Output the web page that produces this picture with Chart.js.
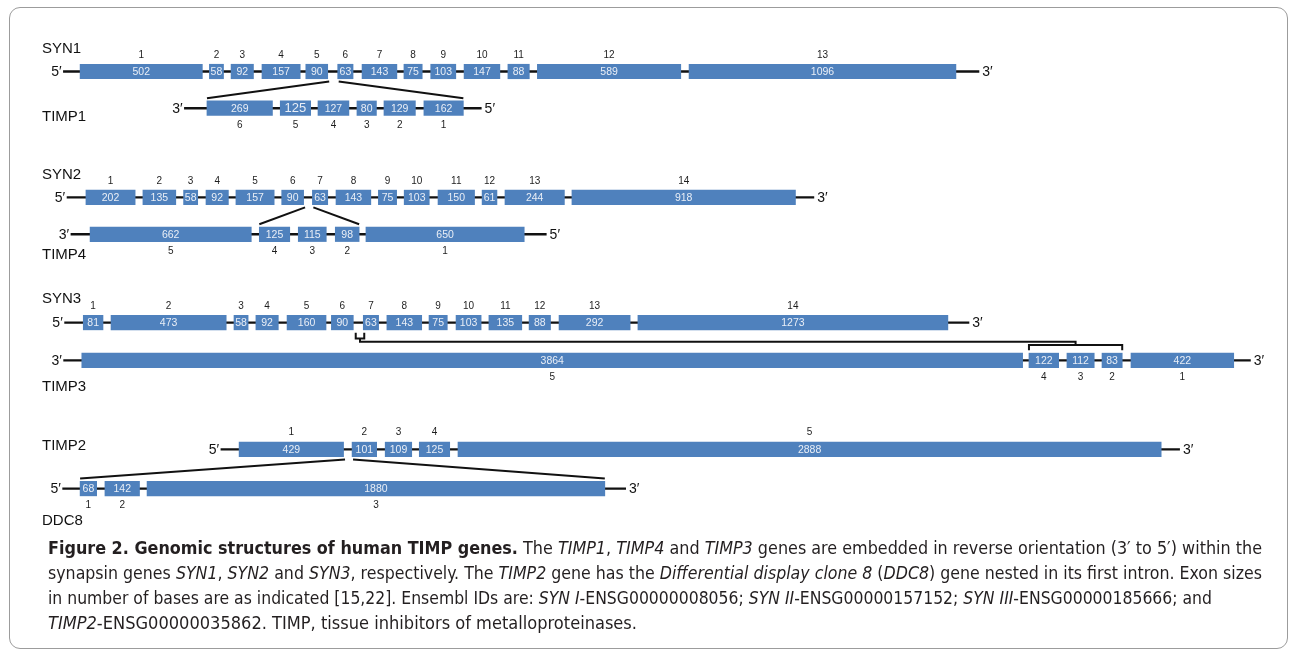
<!DOCTYPE html>
<html>
<head>
<meta charset="utf-8">
<script src="https://cdn.jsdelivr.net/npm/chart.js@4.4.0/dist/chart.umd.min.js"></script>
<style>
  html, body { margin: 0; padding: 0; background: #fff; overflow: hidden; }
  #wrap { position: relative; width: 1289px; height: 662px; }
  #frame { position: absolute; left: 9px; top: 7px; width: 1279px; height: 642px; border: 1px solid #9c9c9c; border-radius: 11px; box-sizing: border-box; }
  #gene { position: absolute; left: 0; top: 0; }
  #caption { position: absolute; left: 48px; top: 536px; font-family: "Liberation Sans Narrow", "DejaVu Sans Condensed", "Liberation Sans", sans-serif; font-size: 17px; line-height: 25px; color: #231f20; white-space: nowrap; }
  #caption div { display: block; transform-origin: 0 50%; }
  #caption span.t { display: inline-block; }
</style>
</head>
<body>
<div id="wrap">
  <div id="frame"></div>
  <canvas id="gene" width="1289" height="662"></canvas>
  <div id="caption">
    <div data-w="1214"><span class="t"><b>Figure 2. Genomic structures of human TIMP genes.</b> The <i>TIMP1</i>, <i>TIMP4</i> and <i>TIMP3</i> genes are embedded in reverse orientation (3′ to 5′) within the</span></div>
    <div data-w="1214"><span class="t">synapsin genes <i>SYN1</i>, <i>SYN2</i> and <i>SYN3</i>, respectively. The <i>TIMP2</i> gene has the <i>Differential display clone 8</i> (<i>DDC8</i>) gene nested in its first intron. Exon sizes</span></div>
    <div data-w="1164"><span class="t">in number of bases are as indicated [15,22]. Ensembl IDs are: <i>SYN I</i>-ENSG00000008056; <i>SYN II</i>-ENSG00000157152; <i>SYN III</i>-ENSG00000185666; and</span></div>
    <div data-w="589"><span class="t"><i>TIMP2</i>-ENSG00000035862. TIMP, tissue inhibitors of metalloproteinases.</span></div>
  </div>
</div>
<script>
// --- Data (exon sizes in bases, exon start along the drawing axis, exon numbers) ---
const geneNames = ['SYN1', 'TIMP1', 'SYN2', 'TIMP4', 'SYN3', 'TIMP3', 'TIMP2', 'DDC8'];

const syn1Sizes = [502, 58, 92, 157, 90, 63, 143, 75, 103, 147, 88, 589, 1096];
const syn1Starts = [329, 860, 949, 1076, 1256, 1387, 1487, 1659, 1769, 1906, 2086, 2207, 2830];
const syn1Numbers = [1, 2, 3, 4, 5, 6, 7, 8, 9, 10, 11, 12, 13];
const syn1Span = [259, 4022];

const timp1Sizes = [269, 125, 127, 80, 129, 162];
const timp1Starts = [850, 1151, 1306, 1466, 1577, 1741];
const timp1Numbers = [6, 5, 4, 3, 2, 1];
const timp1Span = [756, 1978];

const syn2Sizes = [202, 135, 58, 92, 157, 90, 63, 143, 75, 103, 150, 61, 244, 918];
const syn2Starts = [353, 587, 754, 846, 969, 1157, 1283, 1380, 1554, 1660, 1799, 1980, 2074, 2349];
const syn2Numbers = [1, 2, 3, 4, 5, 6, 7, 8, 9, 10, 11, 12, 13, 14];
const syn2Span = [274, 3344];

const timp4Sizes = [662, 125, 115, 98, 650];
const timp4Starts = [370, 1065, 1225, 1377, 1503];
const timp4Numbers = [5, 4, 3, 2, 1];
const timp4Span = [290, 2245];

const syn3Sizes = [81, 473, 58, 92, 160, 90, 63, 143, 75, 103, 135, 88, 292, 1273];
const syn3Starts = [342, 456, 961, 1051, 1179, 1361, 1492, 1589, 1762, 1873, 2008, 2173, 2296, 2620];
const syn3Numbers = [1, 2, 3, 4, 5, 6, 7, 8, 9, 10, 11, 12, 13, 14];
const syn3Span = [264, 3981];

const timp3Sizes = [3864, 122, 112, 83, 422];
const timp3Starts = [336, 4226, 4382, 4526, 4645];
const timp3Numbers = [5, 4, 3, 2, 1];
const timp3Span = [260, 5137];

const timp2Sizes = [429, 101, 109, 125, 2888];
const timp2Starts = [982, 1446, 1582, 1722, 1881];
const timp2Numbers = [1, 2, 3, 4, 5];
const timp2Span = [906, 4846];

const ddc8Sizes = [68, 142, 1880];
const ddc8Starts = [329, 431, 604];
const ddc8Numbers = [1, 2, 3];
const ddc8Span = [256, 2571];

// 5'/3' ends shown at the left and right of each gene
const geneEnds = [['5′', '3′'], ['3′', '5′'], ['5′', '3′'], ['3′', '5′'], ['5′', '3′'], ['3′', '3′'], ['5′', '3′'], ['5′', '3′']];

// nested genes: [host, nested, host exon before the gap, first nested exon, last nested exon]
const nestings = [[0, 1, 4, 0, 5], [2, 3, 5, 1, 3], [6, 7, 0, 0, 2]];
const bracketNest = [4, 5, 5, 1, 3];

// --- Layout ---
const X_MAX = 5294;
const rowY = [71.5, 108.2, 197.4, 234.3, 322.6, 360.4, 449.4, 488.6];
const numberDy = [-16, 17.5, -16.5, 16.5, -16.5, 17.3, -16.7, 16.5];
const nameDy = [-22.5, 9, -22.5, 21, -23.5, 26, -3.4, 32.5];
const BLUE = '#4f81bd';

const sizes = [syn1Sizes, timp1Sizes, syn2Sizes, timp4Sizes, syn3Sizes, timp3Sizes, timp2Sizes, ddc8Sizes];
const starts = [syn1Starts, timp1Starts, syn2Starts, timp4Starts, syn3Starts, timp3Starts, timp2Starts, ddc8Starts];
const numbers = [syn1Numbers, timp1Numbers, syn2Numbers, timp4Numbers, syn3Numbers, timp3Numbers, timp2Numbers, ddc8Numbers];
const spans = [syn1Span, timp1Span, syn2Span, timp4Span, syn3Span, timp3Span, timp2Span, ddc8Span];

const exonEnd = (g, i) => starts[g][i] + sizes[g][i];

function lineSet(points, width) {
  return {
    type: 'line',
    indexAxis: 'x',
    data: points.map(p => ({ x: p[0], y: p[1] })),
    borderColor: '#111',
    borderWidth: width,
    pointRadius: 0,
    tension: 0,
    fill: false,
    order: 2
  };
}

const datasets = [];

// exons as floating bars
geneNames.forEach((name, g) => {
  datasets.push({
    type: 'bar',
    label: name,
    data: sizes[g].map((s, i) => ({ x: [starts[g][i], starts[g][i] + s], y: rowY[g] })),
    backgroundColor: BLUE,
    borderWidth: 0,
    barThickness: 14.5,
    grouped: false,
    order: 1
  });
  // intron / flanking line
  datasets.push(lineSet([[spans[g][0], rowY[g]], [spans[g][1], rowY[g]]], 2.4));
});

// fan lines from host intron to the nested gene
nestings.forEach(([h, n, e, a, b]) => {
  const top = rowY[h] + 10, bot = rowY[n] - 10;
  datasets.push(lineSet([[exonEnd(h, e) + 6, top], [starts[n][a], bot]], 2));
  datasets.push(lineSet([[starts[h][e + 1] + 4, top], [exonEnd(n, b), bot]], 2));
});

// bracket SYN3 intron 6 -> TIMP3 exons 4-2
(function () {
  const [h, n, e, a, b] = bracketNest;
  const l = exonEnd(h, e) + 10, r = starts[h][e + 1] + 4, c = (l + r) / 2;
  const y0 = rowY[h] + 10.2, y1 = rowY[h] + 15.8, y2 = rowY[h] + 19.2;
  const bl = starts[n][a], br = exonEnd(n, b), bc = (bl + br) / 2;
  const z0 = rowY[n] - 15.4, z1 = rowY[n] - 10.2;
  datasets.push(lineSet([[l, y0], [l, y1], [r, y1], [r, y0]], 2));
  datasets.push(lineSet([[c, y1], [c, y2], [bc, y2], [bc, z0]], 2));
  datasets.push(lineSet([[bl, z1], [bl, z0], [br, z0], [br, z1]], 2));
})();

// --- Text drawn with the scales ---
const FONT = '"Liberation Sans", Arial, Helvetica, sans-serif';
const labelPlugin = {
  id: 'geneLabels',
  afterDatasetsDraw(chart) {
    const { ctx, scales: { x, y } } = chart;
    ctx.save();
    ctx.textBaseline = 'middle';
    geneNames.forEach((name, g) => {
      const cy = y.getPixelForValue(rowY[g]);
      sizes[g].forEach((s, i) => {
        const cx = x.getPixelForValue(starts[g][i] + s / 2);
        const big = (name === 'TIMP1' && i === 1);
        ctx.textAlign = 'center';
        ctx.font = (big ? '13px ' : '10.5px ') + FONT;
        ctx.fillStyle = '#e9eef6';
        ctx.fillText(String(s), cx, cy + 0.5);
        ctx.font = '10px ' + FONT;
        ctx.fillStyle = '#1e1e1e';
        ctx.fillText(String(numbers[g][i]), cx, cy + numberDy[g]);
      });
      ctx.font = '14px ' + FONT;
      ctx.fillStyle = '#111';
      ctx.textAlign = 'right';
      ctx.fillText(geneEnds[g][0], x.getPixelForValue(spans[g][0]) - 1.5, cy + 0.5);
      ctx.textAlign = 'left';
      ctx.fillText(geneEnds[g][1], x.getPixelForValue(spans[g][1]) + 3, cy + 0.5);
      ctx.font = '15px ' + FONT;
      ctx.fillText(name, 42, cy + nameDy[g]);
    });
    ctx.restore();
  }
};

new Chart(document.getElementById('gene'), {
  data: { datasets },
  options: {
    indexAxis: 'y',
    responsive: false,
    animation: false,
    devicePixelRatio: 1,
    layout: { padding: 0 },
    plugins: { legend: { display: false }, tooltip: { enabled: false } },
    scales: {
      x: { type: 'linear', min: 0, max: X_MAX, display: false, offset: false },
      y: { type: 'linear', min: 0, max: 662, reverse: true, display: false, offset: false }
    }
  },
  plugins: [labelPlugin]
});

// squeeze each caption line to the reference line width
document.querySelectorAll('#caption div').forEach(line => {
  const span = line.querySelector('.t');
  const textW = span.getBoundingClientRect().width;
  const target = parseFloat(line.dataset.w);
  span.style.transformOrigin = '0 50%';
  span.style.transform = 'scaleX(' + (target / textW) + ')';
});
</script>
</body>
</html>
